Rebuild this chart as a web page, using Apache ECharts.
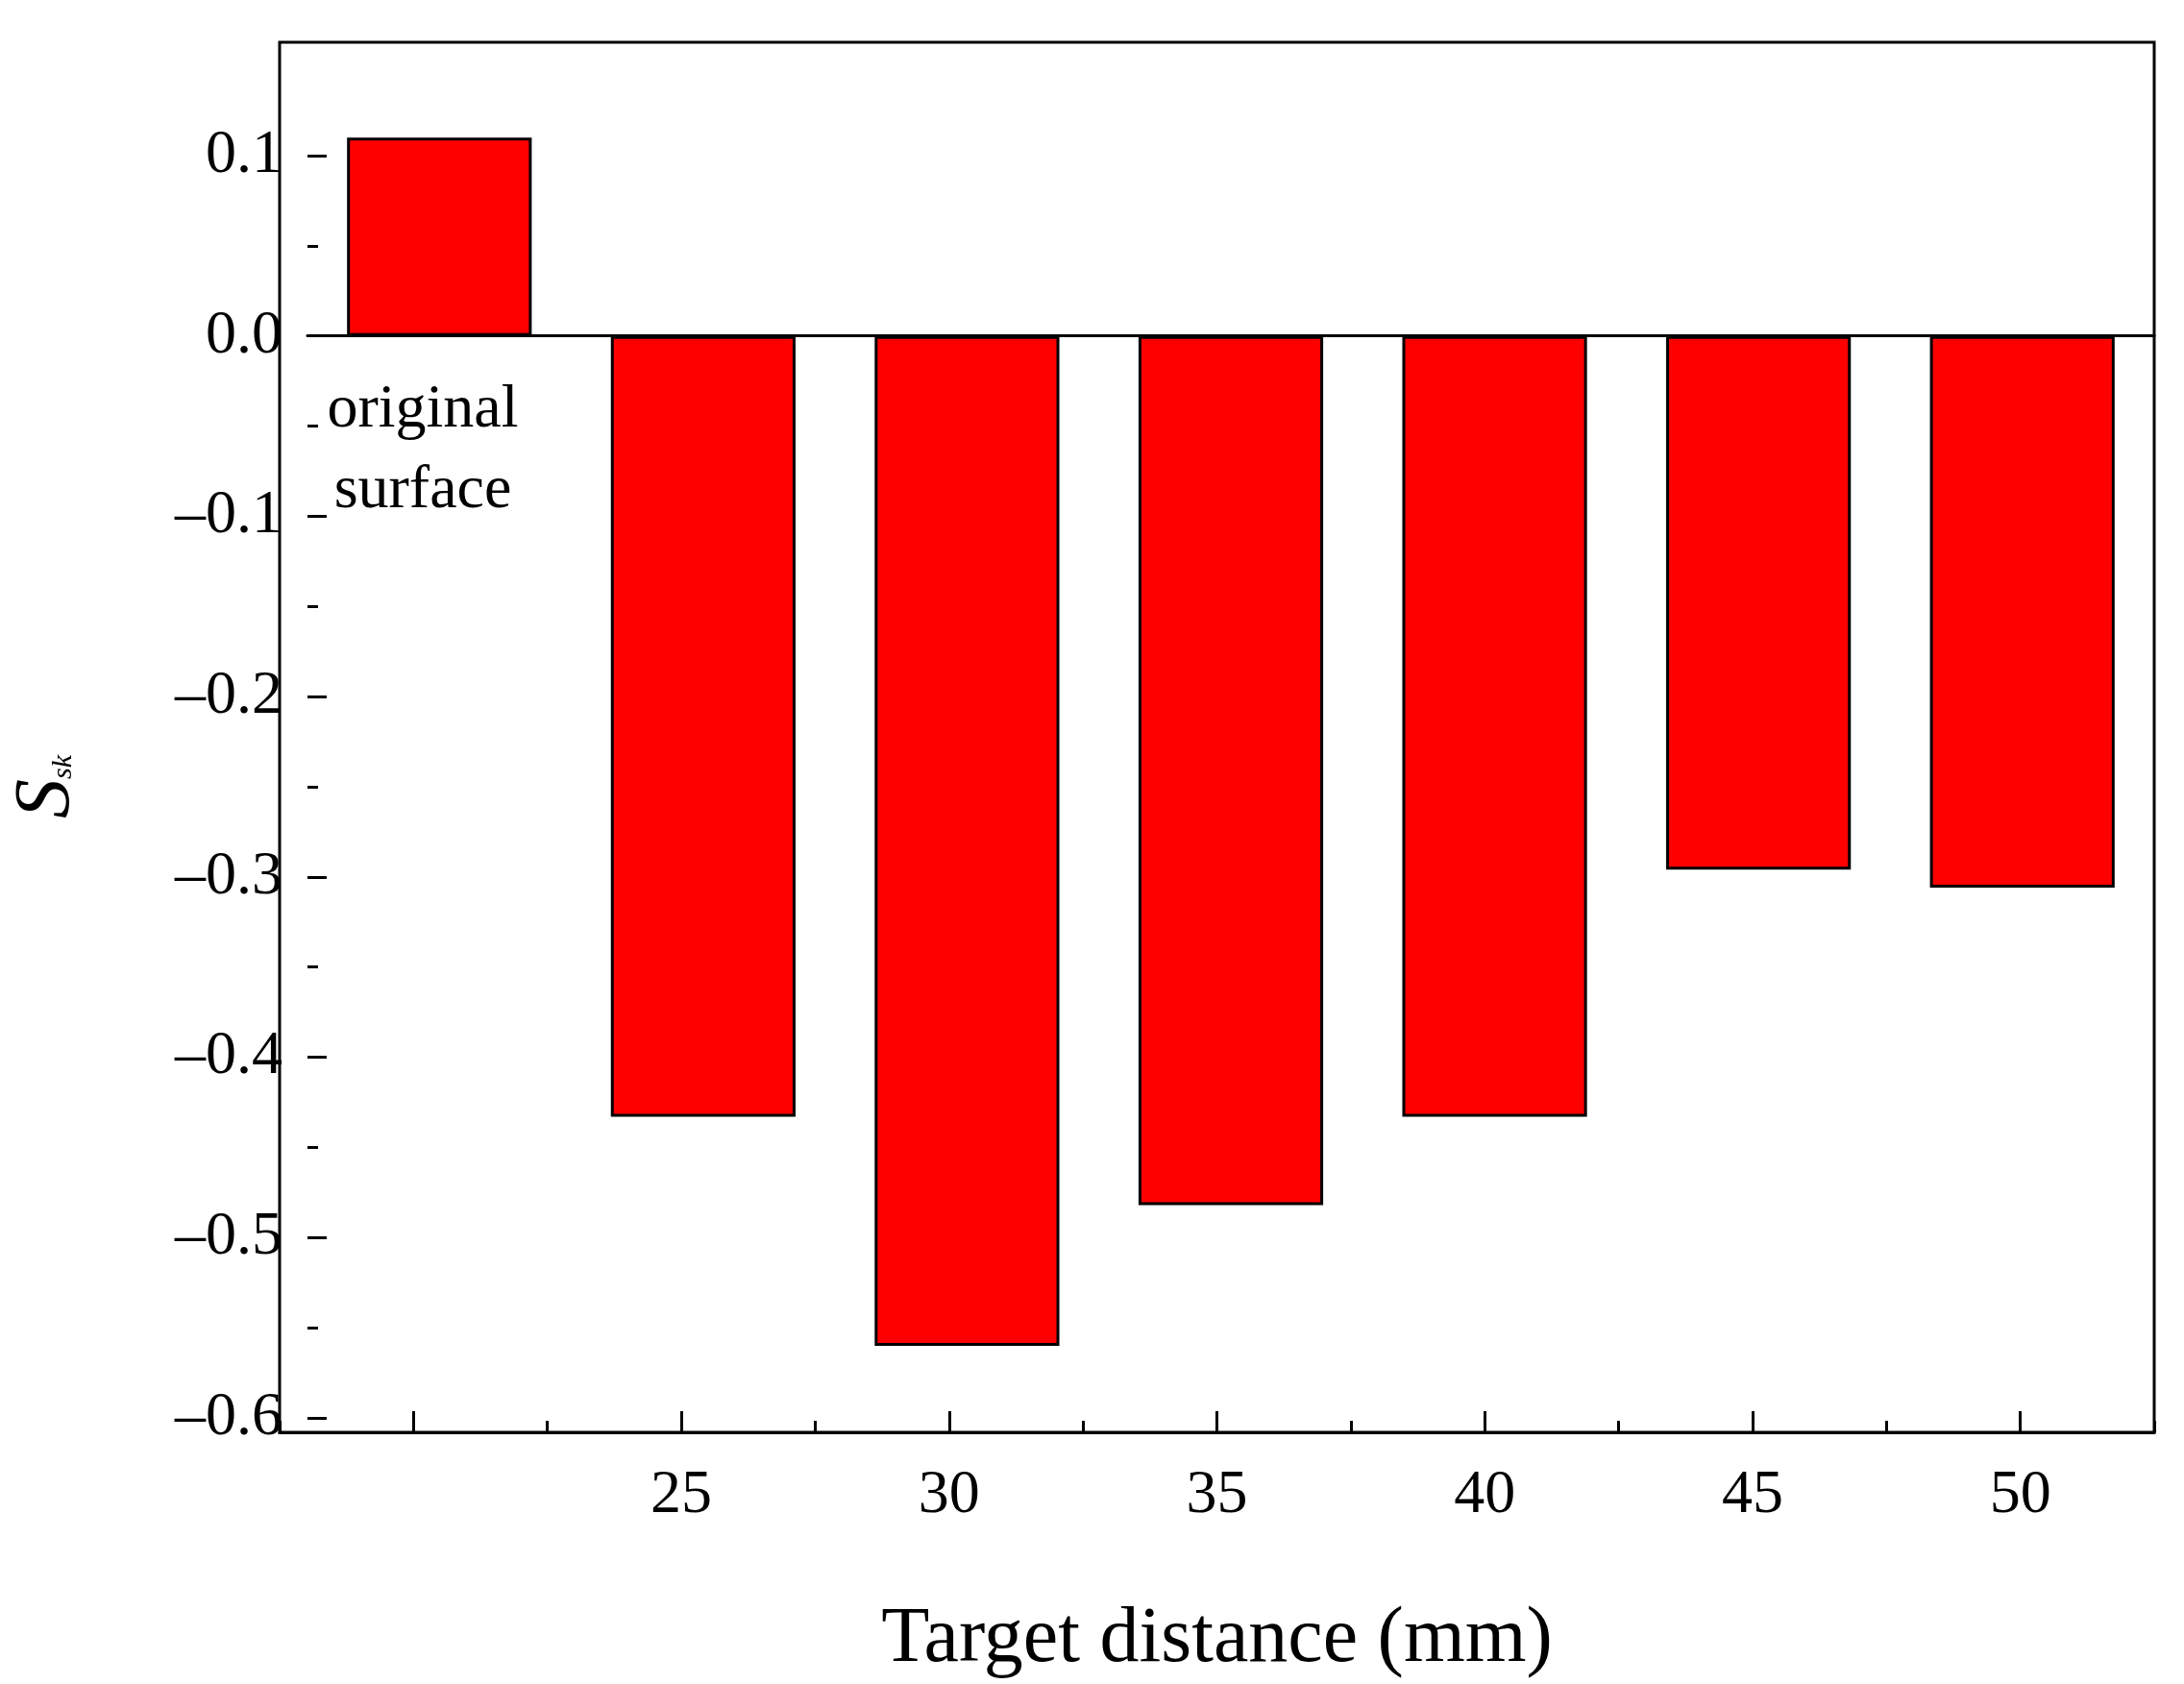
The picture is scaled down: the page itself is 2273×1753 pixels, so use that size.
<!DOCTYPE html>
<html>
<head>
<meta charset="utf-8">
<script src="https://cdn.jsdelivr.net/npm/echarts@6/dist/echarts.min.js"></script>
<style>html,body{margin:0;background:#fff}#chart{width:2273px;height:1753px}</style>
</head>
<body>
<div id="chart"></div>
<script>
const categories = ['', '25', '30', '35', '40', '45', '50'];
const ssk = [0.11, -0.433, -0.56, -0.482, -0.433, -0.296, -0.306];
const firstLabel = ['original', 'surface'];

const font = 'Liberation Serif';
const chart = echarts.init(document.getElementById('chart'));

chart.setOption({
    animation: false,
    grid: [
        // frame box
        { left: 291, right: 31, top: 44, bottom: 256, show: true, borderColor: '#000', borderWidth: 3 },
        // data grid: y from -0.6 (bottom) to 0.1 (top)
        { left: 291, right: 31, top: 162, height: 1314 }
    ],
    xAxis: [
        {
            gridIndex: 0, type: 'category', data: categories,
            name: 'Target distance (mm)', nameLocation: 'middle', nameGap: 175,
            nameTextStyle: { fontFamily: font, fontSize: 82, color: '#000' },
            axisLine: { show: true, onZero: false, lineStyle: { color: '#000', width: 3 } },
            axisTick: { show: true, inside: true, alignWithLabel: true, length: 22, lineStyle: { width: 3, color: '#000' } },
            axisLabel: { margin: 34, fontFamily: font, fontSize: 64, color: '#000' }
        },
        {
            gridIndex: 0, type: 'category', data: categories, position: 'bottom',
            axisLine: { show: false, onZero: false },
            axisTick: { show: true, inside: true, length: 12, lineStyle: { width: 3, color: '#000' } },
            axisLabel: { show: false }
        },
        {
            gridIndex: 1, type: 'category', data: categories,
            axisLine: { show: true, onZero: true, lineStyle: { color: '#000', width: 3 } },
            axisTick: { show: false }, axisLabel: { show: false }
        }
    ],
    yAxis: [
        { gridIndex: 0, type: 'value', show: false, min: -1, max: 1 },
        {
            gridIndex: 1, type: 'value', min: -0.6, max: 0.1, interval: 0.1,
            name: '{s|S}{sub|sk}', nameLocation: 'middle', nameGap: 230,
            nameTextStyle: {
                rich: {
                    s: { fontFamily: font, fontStyle: 'italic', fontSize: 82, color: '#000' },
                    sub: { fontFamily: font, fontStyle: 'italic', fontSize: 30, color: '#000', padding: [34, 0, 0, 0] }
                }
            },
            axisLine: { show: false },
            splitLine: { show: false },
            axisTick: { show: true, inside: true, length: 20, lineStyle: { width: 3, color: '#000' } },
            minorTick: { show: true, splitNumber: 2, length: 11, lineStyle: { width: 3, color: '#000' } },
            axisLabel: {
                margin: 26, fontFamily: font, fontSize: 64, color: '#000',
                formatter: v => v.toFixed(1).replace('-', '\u2013')
            }
        }
    ],
    series: [{
        type: 'bar', xAxisIndex: 2, yAxisIndex: 1, data: ssk, barWidth: '70%', clip: false,
        itemStyle: { color: '#ff0000', borderColor: '#000', borderWidth: 3 }
    }],
    graphic: [{
        type: 'text', z: 10,
        style: { x: 440, y: 385, text: firstLabel.join('\n'), fontFamily: font, fontSize: 64, lineHeight: 84, fill: '#000', align: 'center' }
    }]
});
</script>
</body>
</html>
